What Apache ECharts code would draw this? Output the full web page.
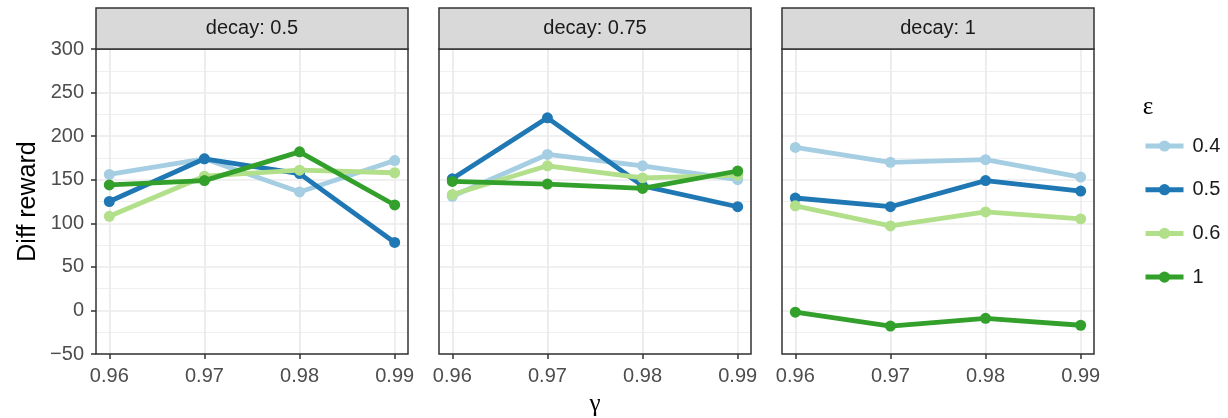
<!DOCTYPE html>
<html>
<head>
<meta charset="utf-8">
<script src="https://cdn.jsdelivr.net/npm/echarts@6/dist/echarts.min.js"></script>
<style>
html, body { margin: 0; padding: 0; background: #fff; }
#chart { width: 1228px; height: 418px; }
</style>
</head>
<body>
<div id="chart"></div>
<script>
// x values (gamma) and groups
const gammas = [0.96, 0.97, 0.98, 0.99];
const gammaMinor = [0.965, 0.975, 0.985];
const epsilons = ['0.4', '0.5', '0.6', '1'];
const decays = ['0.5', '0.75', '1'];
const colors = ['#A6CEE3', '#1F78B4', '#B2DF8A', '#33A02C'];

// decay 0.5
const d05_e04 = [156, 174, 136, 172];
const d05_e05 = [125, 174, 157, 78];
const d05_e06 = [108, 154, 161, 158];
const d05_e1 = [144, 149, 182, 121];
// decay 0.75
const d075_e04 = [131, 179, 166, 150];
const d075_e05 = [151, 221, 143, 119];
const d075_e06 = [133, 166, 152, 155];
const d075_e1 = [148, 145, 140, 160];
// decay 1
const d1_e04 = [187, 170, 173, 153];
const d1_e05 = [129, 119, 149, 137];
const d1_e06 = [120, 97, 113, 105];
const d1_e1 = [-2, -18, -9, -17];

const panelData = [
  [d05_e04, d05_e05, d05_e06, d05_e1],
  [d075_e04, d075_e05, d075_e06, d075_e1],
  [d1_e04, d1_e05, d1_e06, d1_e1]
];

const lefts = [96, 439, 782];
const panelW = 312, panelTop = 49, panelH = 305, stripH = 41;
const tickFont = 'Liberation Sans, Arial, sans-serif';
const serifFont = 'Liberation Serif, DejaVu Serif, serif';

const chart = echarts.init(document.getElementById('chart'));

const grids = [], xAxes = [], yAxes = [], series = [], graphics = [];

decays.forEach(function (d, i) {
  grids.push({
    left: lefts[i], top: panelTop, width: panelW, height: panelH,
    outerBoundsMode: 'none', containLabel: false, show: false
  });
  xAxes.push({
    type: 'value', gridIndex: i, min: 0.9586, max: 0.9914,
    axisLine: { show: false, onZero: false },
    axisTick: { show: true, customValues: gammas, length: 5, lineStyle: { color: '#333333', width: 1.5 } },
    axisLabel: {
      customValues: gammas, color: '#4D4D4D', fontSize: 20, fontFamily: tickFont, margin: 12,
      formatter: function (v) { return v.toFixed(2); }
    },
    splitLine: { show: false },
    name: i === 1 ? 'γ' : '',
    nameLocation: 'middle', nameGap: 38,
    nameTextStyle: { fontSize: 25, color: '#000', fontFamily: serifFont }
  });
  yAxes.push({
    type: 'value', gridIndex: i, min: -50, max: 300, interval: 50,
    axisLine: { show: false, onZero: false },
    axisTick: { show: i === 0, length: 5, lineStyle: { color: '#333333', width: 1.5 } },
    axisLabel: {
      show: i === 0, color: '#4D4D4D', fontSize: 20, fontFamily: tickFont, margin: 12,
      formatter: function (v) { return v < 0 ? '\u2212' + Math.abs(v) : String(v); }
    },
    splitLine: { show: true, lineStyle: { color: '#EBEBEB', width: 1.6 } },
    minorTick: { show: false, splitNumber: 2 },
    minorSplitLine: { show: true, lineStyle: { color: '#EBEBEB', width: 0.8 } },
    name: i === 0 ? 'Diff reward' : '',
    nameLocation: 'middle', nameGap: 55,
    nameTextStyle: { fontSize: 25, color: '#000', fontFamily: tickFont }
  });

  // vertical grid lines at the gamma breaks
  series.push({
    type: 'line', name: 'grid' + i, xAxisIndex: i, yAxisIndex: i, data: [], z: 1, silent: true,
    markLine: {
      z: 1, silent: true, symbol: 'none', animation: false, label: { show: false },
      data: gammas.map(function (g) {
        return { xAxis: g, lineStyle: { color: '#EBEBEB', width: 1.6, type: 'solid' } };
      }).concat(gammaMinor.map(function (g) {
        return { xAxis: g, lineStyle: { color: '#EBEBEB', width: 0.8, type: 'solid' } };
      }))
    }
  });

  epsilons.forEach(function (e, k) {
    series.push({
      type: 'line', name: e, xAxisIndex: i, yAxisIndex: i, z: 3 + k,
      data: gammas.map(function (g, j) { return [g, panelData[i][k][j]]; }),
      symbol: 'circle', symbolSize: 11, showSymbol: true,
      lineStyle: { color: colors[k], width: 4.8 },
      itemStyle: { color: colors[k] },
      animation: false
    });
  });

  // panel border, drawn on top of the grid lines
  graphics.push({
    type: 'rect', z: 100, silent: true,
    shape: { x: lefts[i], y: panelTop, width: panelW, height: panelH },
    style: { fill: 'none', stroke: '#333333', lineWidth: 1.5 }
  });
  // facet strip
  graphics.push({
    type: 'rect', z: 100, silent: true,
    shape: { x: lefts[i], y: panelTop - stripH, width: panelW, height: stripH },
    style: { fill: '#D9D9D9', stroke: '#333333', lineWidth: 1.5 }
  });
  graphics.push({
    type: 'text', x: lefts[i] + panelW / 2, y: panelTop - stripH / 2, z: 101,
    style: {
      text: 'decay: ' + d, fill: '#1A1A1A', font: '20px ' + tickFont,
      textAlign: 'center', textVerticalAlign: 'middle'
    }
  });
});

// legend title
graphics.push({
  type: 'text', x: 1148, y: 107,
  style: {
    text: 'ε', fill: '#000', font: '25px ' + serifFont,
    textAlign: 'center', textVerticalAlign: 'middle'
  }
});

chart.setOption({
  animation: false,
  color: colors,
  grid: grids,
  xAxis: xAxes,
  yAxis: yAxes,
  legend: {
    data: epsilons, orient: 'vertical', left: 1138, top: 131, padding: 5,
    itemWidth: 38, itemHeight: 14, itemGap: 23.7,
    lineStyle: { width: 5 },
    textStyle: { fontSize: 20, lineHeight: 20, color: '#1A1A1A', fontFamily: tickFont, padding: [0, 0, 0, 4] }
  },
  graphic: graphics,
  series: series
});
</script>
</body>
</html>
